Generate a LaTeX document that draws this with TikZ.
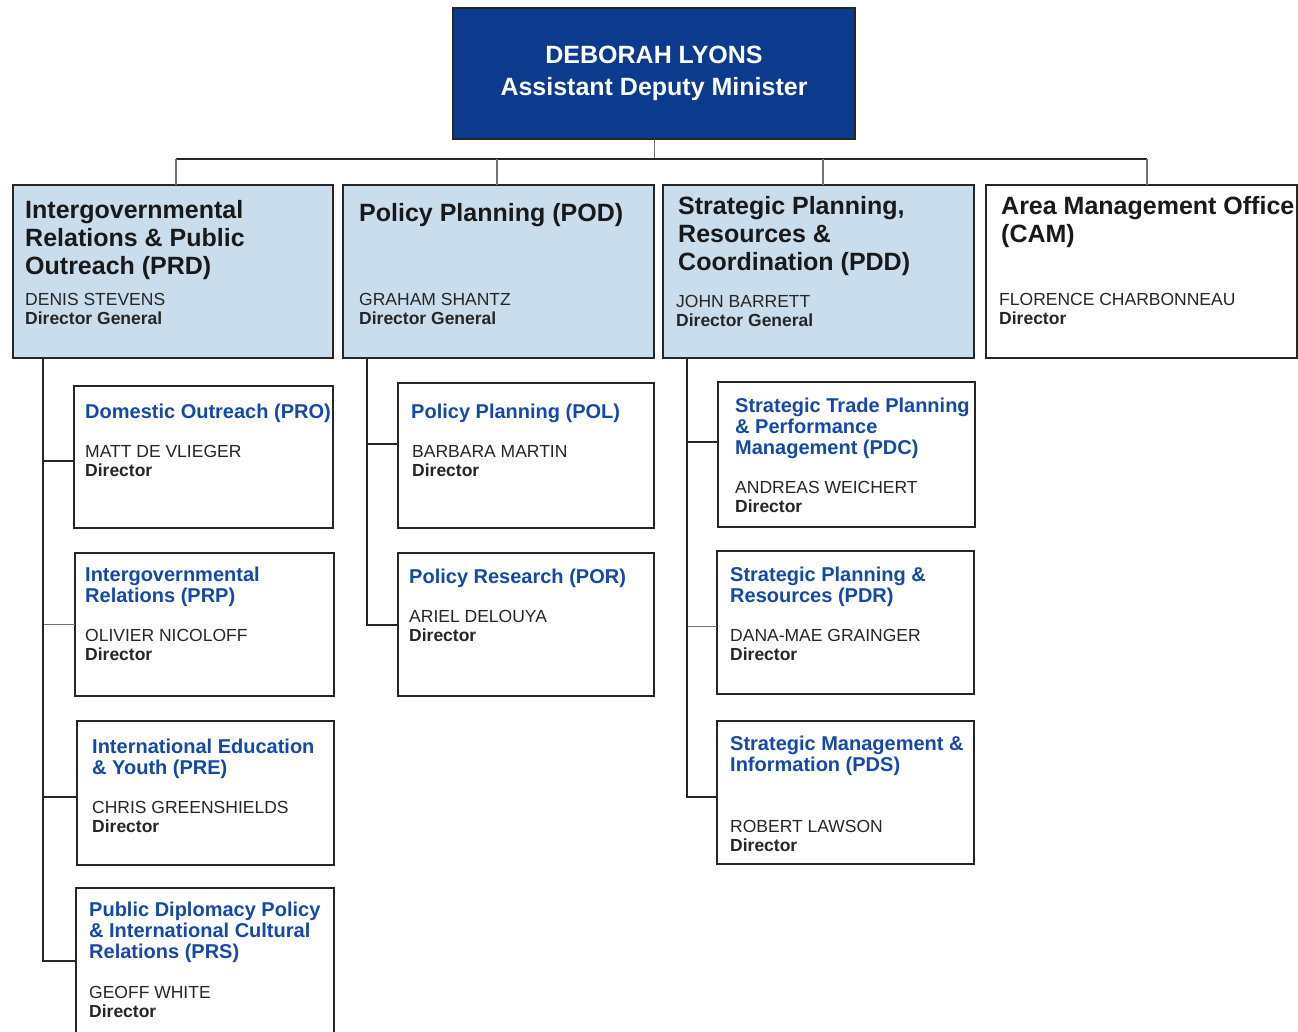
\documentclass[tikz,border=0pt]{standalone}
\usepackage{fontspec}
\setmainfont{Liberation Sans}
\usepackage{xcolor}
\usetikzlibrary{calc}
\definecolor{admblue}{RGB}{12,58,140}
\definecolor{paleblue}{RGB}{201,221,236}
\definecolor{unitblue}{RGB}{22,72,168}

\begin{document}
\begin{tikzpicture}[x=1pt,y=-1pt,
    box/.style={draw=black!85,line width=2pt,anchor=north west,inner sep=0pt,outer sep=0pt},
    branchbox/.style={box,fill=paleblue,minimum height=173pt},
    unitbox/.style={box,fill=white},
    head/.style={anchor=north west,inner sep=0pt,align=left,text=black!90,
      font=\fontsize{25}{28}\selectfont\bfseries},
    unithead/.style={anchor=north west,inner sep=0pt,align=left,text=unitblue,
      font=\fontsize{20}{21}\selectfont\bfseries},
    who/.style={anchor=north west,inner sep=0pt,align=left,text=black!85,
      font=\fontsize{17.5}{19}\selectfont},
    link/.style={draw=black!85,line width=2pt},
    thinlink/.style={draw=black!55,line width=1pt}]
  \useasboundingbox (0,0) rectangle (1298,1031);

  \node[box,fill=admblue,minimum width=402pt,minimum height=131pt,align=center,text=white,
    font=\fontsize{25}{32}\selectfont\bfseries] (adm) at (453,8)
    {DEBORAH LYONS\\Assistant Deputy Minister};

  \node[branchbox,minimum width=320pt] (prd) at (13,185) {};
  \node[branchbox,minimum width=311pt] (pod) at (343,185) {};
  \node[branchbox,minimum width=311pt] (pdd) at (663,185) {};
  \node[branchbox,fill=white,minimum width=311pt] (cam) at (986,185) {};

  \node[unitbox,minimum width=259pt,minimum height=142pt] (pro) at (74,386) {};
  \node[unitbox,minimum width=259pt,minimum height=143pt] (prp) at (75,553) {};
  \node[unitbox,minimum width=257pt,minimum height=144pt] (pre) at (77,721) {};
  \node[unitbox,minimum width=258pt,minimum height=170pt] (prs) at (76,888) {};
  \node[unitbox,minimum width=256pt,minimum height=145pt] (pol) at (398,383) {};
  \node[unitbox,minimum width=256pt,minimum height=143pt] (por) at (398,553) {};
  \node[unitbox,minimum width=257pt,minimum height=145pt] (pdc) at (718,382) {};
  \node[unitbox,minimum width=257pt,minimum height=143pt] (pdr) at (717,551) {};
  \node[unitbox,minimum width=257pt,minimum height=143pt] (pds) at (717,721) {};

  \node[head] (prd-head) at (25,200) {Intergovernmental\\Relations \& Public\\Outreach (PRD)};
  \node[who] (prd-who) at (25,293) {DENIS STEVENS\\\textbf{Director General}};
  \node[head] (pod-head) at (359,203) {Policy Planning (POD)};
  \node[who] (pod-who) at (359,293) {GRAHAM SHANTZ\\\textbf{Director General}};
  \node[head] (pdd-head) at (678,196) {Strategic Planning,\\Resources \&\\Coordination (PDD)};
  \node[who] (pdd-who) at (676,295) {JOHN BARRETT\\\textbf{Director General}};
  \node[head] (cam-head) at (1001,196) {Area Management Office\\(CAM)};
  \node[who] (cam-who) at (999,293) {FLORENCE CHARBONNEAU\\\textbf{Director}};

  \node[unithead] (pro-head) at (85,404) {Domestic Outreach (PRO)};
  \node[who] (pro-who) at (85,445) {MATT DE VLIEGER\\\textbf{Director}};
  \node[unithead] (prp-head) at (85,567) {Intergovernmental\\Relations (PRP)};
  \node[who] (prp-who) at (85,629) {OLIVIER NICOLOFF\\\textbf{Director}};
  \node[unithead] (pre-head) at (92,739) {International Education\\\& Youth (PRE)};
  \node[who] (pre-who) at (92,801) {CHRIS GREENSHIELDS\\\textbf{Director}};
  \node[unithead] (prs-head) at (89,902) {Public Diplomacy Policy\\\& International Cultural\\Relations (PRS)};
  \node[who] (prs-who) at (89,986) {GEOFF WHITE\\\textbf{Director}};

  \node[unithead] (pol-head) at (411,404) {Policy Planning (POL)};
  \node[who] (pol-who) at (412,445) {BARBARA MARTIN\\\textbf{Director}};
  \node[unithead] (por-head) at (409,569) {Policy Research (POR)};
  \node[who] (por-who) at (409,610) {ARIEL DELOUYA\\\textbf{Director}};

  \node[unithead] (pdc-head) at (735,398) {Strategic Trade Planning\\\& Performance\\Management (PDC)};
  \node[who] (pdc-who) at (735,481) {ANDREAS WEICHERT\\\textbf{Director}};
  \node[unithead] (pdr-head) at (730,567) {Strategic Planning \&\\Resources (PDR)};
  \node[who] (pdr-who) at (730,629) {DANA-MAE GRAINGER\\\textbf{Director}};
  \node[unithead] (pds-head) at (730,736) {Strategic Management \&\\Information (PDS)};
  \node[who] (pds-who) at (730,820) {ROBERT LAWSON\\\textbf{Director}};

  \coordinate (busL) at (176,159);
  \coordinate (busR) at (1147,159);
  \draw[thinlink] (adm.south) -- (adm.south |- busL);
  \draw[link] (busL) -- (busR);
  \foreach \x/\n in {176/prd,497/pod,823/pdd,1147/cam}{
    \coordinate (drop-\n) at (\x,159);
    \draw[thinlink,line width=1.5pt] (drop-\n) -- (drop-\n |- \n.north);
  }

  \coordinate (prd-trunk) at (43,358);
  \coordinate (pod-trunk) at (367,358);
  \coordinate (pdd-trunk) at (687,358);
  \draw[thinlink] (prp.west -| prd-trunk) -- (prp.west);
  \draw[thinlink] ([yshift=-3.5pt]pdr.west -| pdd-trunk) -- ([yshift=-3.5pt]pdr.west);
  \foreach \c/\s in {pro/-4,pre/-4,prs/12}
    \draw[link] (prd-trunk) |- ([yshift=\s pt]\c.west);
  \foreach \c/\s in {pol/11.5,por/0}
    \draw[link] (pod-trunk) |- ([yshift=\s pt]\c.west);
  \foreach \c/\s in {pdc/12.5,pds/-4.5}
    \draw[link] (pdd-trunk) |- ([yshift=\s pt]\c.west);
\end{tikzpicture}
\end{document}
